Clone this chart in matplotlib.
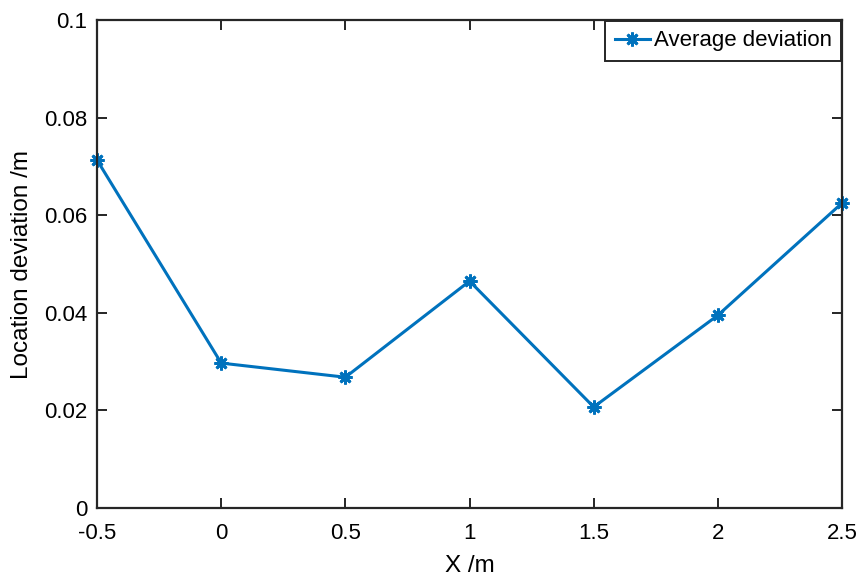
import matplotlib

matplotlib.use("Agg")

import matplotlib.pyplot as plt

# data
x_pos = [-0.5, 0, 0.5, 1, 1.5, 2, 2.5]
avg_dev = [0.0713, 0.0297, 0.0268, 0.0465, 0.0207, 0.0395, 0.0625]

x_ticks = [-0.5, 0, 0.5, 1, 1.5, 2, 2.5]
x_ticklabels = ["-0.5", "0", "0.5", "1", "1.5", "2", "2.5"]
y_ticks = [0, 0.02, 0.04, 0.06, 0.08, 0.1]
y_ticklabels = ["0", "0.02", "0.04", "0.06", "0.08", "0.1"]

plt.rcParams["font.family"] = ["Liberation Sans", "DejaVu Sans"]

fig = plt.figure(figsize=(8.58, 5.79), dpi=100)
ax = fig.add_axes([0.1131, 0.1226, 0.8683, 0.8428])

ax.plot(
    x_pos,
    avg_dev,
    color="#0072BD",
    linewidth=2.2,
    marker=(8, 2, 0),
    markersize=10,
    markeredgewidth=2.0,
    label="Average deviation",
    clip_on=False,
)

ax.set_xlim(-0.5, 2.5)
ax.set_ylim(0, 0.1)
ax.set_xticks(x_ticks)
ax.set_xticklabels(x_ticklabels)
ax.set_yticks(y_ticks)
ax.set_yticklabels(y_ticklabels)
ax.tick_params(direction="in", length=7, width=1.2, labelsize=16, top=True, right=True, pad=7)
ax.tick_params(axis="x", pad=11)
for side in ax.spines.values():
    side.set_linewidth(1.6)
    side.set_color("#262626")

ax.set_xlabel("X /m", fontsize=17.5, labelpad=8)
ax.set_ylabel("Location deviation /m", fontsize=17.5, labelpad=8)

leg = ax.legend(
    loc="upper right",
    fontsize=16,
    frameon=True,
    fancybox=False,
    handlelength=1.6,
    handletextpad=0.15,
    borderaxespad=0.05,
    borderpad=0.42,
)
leg.get_frame().set_edgecolor("#262626")
leg.get_frame().set_linewidth(1.4)
leg.get_frame().set_alpha(1.0)

fig.savefig("out.png")
plt.close(fig)
